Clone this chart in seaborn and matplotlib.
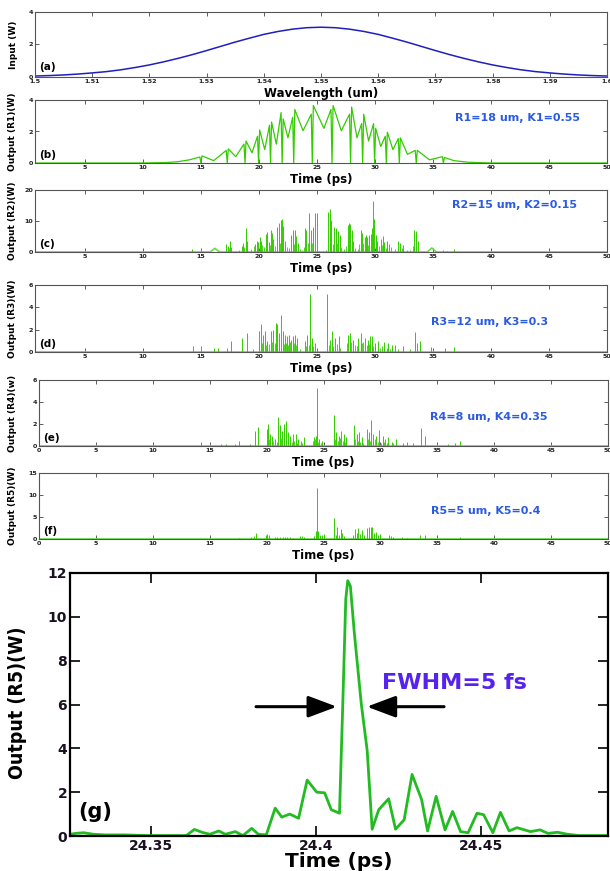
import numpy as np
import pandas as pd
import matplotlib
matplotlib.use("Agg")
import matplotlib.pyplot as plt
import seaborn as sns

sns.set_style("ticks")
plt.rcParams['font.family'] = ['DejaVu Sans']
plt.rcParams['text.color'] = 'black'
plt.rcParams['axes.labelcolor'] = 'black'

# ---------------- data ----------------
# (a) input spectrum
wl = [1.5000, 1.5025, 1.5050, 1.5075, 1.5100, 1.5125, 1.5150, 1.5175, 1.5200, 1.5225,
      1.5250, 1.5275, 1.5300, 1.5325, 1.5350, 1.5375, 1.5400, 1.5425, 1.5450, 1.5475,
      1.5500, 1.5525, 1.5550, 1.5575, 1.5600, 1.5625, 1.5650, 1.5675, 1.5700, 1.5725,
      1.5750, 1.5775, 1.5800, 1.5825, 1.5850, 1.5875, 1.5900, 1.5925, 1.5950, 1.5975, 1.6000]
inp = [0.06, 0.087, 0.126, 0.18, 0.25, 0.33, 0.44, 0.58, 0.74, 0.93,
       1.14, 1.37, 1.62, 1.88, 2.14, 2.38, 2.61, 2.79, 2.93, 3.02,
       3.05, 3.02, 2.93, 2.79, 2.61, 2.38, 2.14, 1.88, 1.62, 1.37,
       1.14, 0.93, 0.74, 0.58, 0.44, 0.33, 0.25, 0.18, 0.126, 0.087, 0.06]

# (b) R1 output: resonances (dip to zero between two peaks) and troughs
b_pre_t = [0.7, 10.0, 12.0, 13.0, 14.0]
b_pre_v = [0.0, 0.0, 0.03, 0.08, 0.2]
b_res_t = [15.0, 17.27, 18.8, 19.97, 21.0, 22.0, 23.0, 24.6, 26.3, 27.9, 28.94, 29.97, 30.98, 32.1, 33.56, 35.9]
b_res_left = [0.38, 0.8, 1.2, 1.7, 2.4, 3.2, 2.9, 3.1, 3.4, 3.1, 2.5, 2.5, 1.7, 1.55, 0.8, 0.4]
b_res_right = [0.45, 0.9, 1.4, 2.1, 2.6, 2.8, 3.4, 3.65, 3.65, 3.55, 3.1, 2.2, 1.95, 1.6, 0.8, 0.35]
b_half_gap = 0.09
b_trough_t = [16.1, 18.0, 19.4, 20.5, 21.5, 22.5, 23.8, 25.6, 27.1, 28.45, 29.45, 30.5, 31.55, 32.8, 34.7]
b_trough_v = [0.15, 0.4, 0.65, 0.85, 1.2, 1.6, 2.05, 2.2, 2.05, 1.6, 1.4, 1.05, 0.85, 0.55, 0.2]
b_post_t = [36.8, 38.0, 40.0, 50.0]
b_post_v = [0.15, 0.05, 0.0, 0.0]

# (c) R2 spikes
c_t = [14.2, 15.0, 17.2, 17.35, 17.5, 17.6, 18.5, 18.65, 18.9, 19.0, 19.7, 19.85, 19.95, 20.05, 20.2,
       20.6, 20.7, 20.85, 21.0, 21.1, 21.25, 21.55, 21.7, 21.9, 22.0, 22.1, 22.25, 22.8, 22.95, 23.1,
       23.2, 23.35, 24.0, 24.1, 24.3, 24.45, 24.7, 24.85, 25.0, 25.95, 26.1, 26.25, 26.45, 26.6, 26.8,
       26.95, 27.65, 27.75, 27.85, 28.05, 28.15, 28.8, 28.9, 29.1, 29.2, 29.35, 29.5, 29.65, 29.75, 29.85,
       29.95, 30.05, 30.2, 30.5, 30.7, 30.8, 31.05, 31.2, 32.0, 32.2, 32.45, 33.4, 33.55, 33.7, 35.9,
       36.2, 36.8]
c_h = [1.0, 1.0, 2.6, 2.0, 3.7, 1.7, 2.0, 2.8, 7.6, 3.7, 2.6, 3.7, 3.2, 4.8, 3.7,
       5.9, 6.4, 3.2, 7.2, 6.2, 4.3, 8.1, 9.2, 10.3, 10.5, 8.4, 3.7, 5.4, 7.0, 7.2,
       5.1, 2.8, 7.6, 7.0, 12.7, 7.2, 8.1, 12.7, 12.5, 13.0, 13.8, 10.3, 8.1, 7.6, 6.7,
       5.4, 8.7, 9.5, 9.1, 7.0, 3.7, 7.0, 6.2, 4.8, 5.4, 4.8, 5.4, 5.9, 7.6, 16.3,
       10.8, 5.4, 3.7, 4.3, 5.1, 3.2, 3.7, 2.6, 3.7, 2.8, 2.4, 7.2, 6.8, 3.7, 0.7,
       0.4, 1.1]
c_small_t = [17.45, 18.3, 18.75, 19.3, 19.55, 20.3, 20.45, 20.95, 21.4, 21.8, 22.4, 22.6, 23.0, 23.5,
             23.7, 23.9, 24.2, 24.6, 25.2, 25.5, 25.8, 26.35, 26.7, 27.1, 27.3, 27.5, 28.3, 28.5,
             28.65, 29.0, 29.4, 30.35, 30.6, 30.95, 31.4, 31.7, 32.35, 32.8, 33.0, 33.3]
c_small_h = [1.2, 0.8, 1.5, 1.0, 1.8, 2.2, 1.5, 2.4, 2.0, 3.0, 1.6, 1.2, 2.5, 1.0,
             0.8, 1.6, 2.8, 3.0, 0.4, 0.3, 0.5, 2.5, 3.0, 1.5, 0.9, 1.8, 1.4, 1.0,
             2.6, 3.0, 2.2, 1.8, 2.4, 1.2, 1.6, 1.0, 1.3, 0.8, 0.6, 1.9]
c_base_t = [0.7, 15.8, 16.2, 16.6, 34.5, 34.9, 35.3, 50.0]
c_base_v = [0.0, 0.0, 1.2, 0.0, 0.0, 1.3, 0.0, 0.0]

# (d) R3 spikes
d_t = [14.29, 15.0, 16.14, 16.43, 17.23, 17.57, 18.57, 19.0, 20.0, 20.14, 20.34, 20.51, 20.71, 21.06,
       21.23, 21.43, 21.6, 21.77, 21.91, 22.06, 22.23, 22.4, 22.57, 22.8, 22.97, 23.14, 23.31, 24.0,
       24.17, 24.4, 24.57, 24.86, 25.86, 26.09, 26.29, 26.57, 26.86, 27.71, 27.86, 28.14, 28.57, 28.77,
       29.14, 29.37, 29.57, 29.71, 30.0, 30.29, 30.8, 31.14, 31.43, 31.77, 32.43, 33.43, 33.66, 33.86,
       34.86, 36.0, 36.8]
d_h = [0.5, 0.5, 0.4, 0.4, 0.4, 0.95, 1.25, 1.7, 1.9, 2.5, 1.55, 1.85, 0.95, 1.85,
       2.0, 2.6, 2.5, 1.7, 3.3, 1.85, 1.55, 1.4, 1.55, 1.1, 1.4, 1.55, 1.25, 0.95,
       1.55, 5.2, 1.25, 0.8, 5.2, 1.1, 1.85, 1.25, 1.4, 1.55, 1.7, 1.1, 1.25, 1.7,
       1.25, 1.1, 1.4, 1.4, 0.8, 0.95, 0.9, 0.8, 0.65, 0.6, 0.5, 1.8, 0.8, 0.95,
       0.45, 0.35, 0.45]
d_small_t = [19.5, 20.25, 20.6, 20.9, 21.15, 21.35, 21.5, 21.7, 22.15, 22.3, 22.5, 22.7, 22.9, 23.05,
             23.2, 23.5, 24.1, 24.3, 24.7, 25.0, 26.0, 26.4, 26.7, 27.0, 27.6, 27.95, 28.3, 28.45,
             28.9, 29.0, 29.3, 29.5, 29.85, 30.45, 30.6, 31.0, 31.3, 32.0, 33.0]
d_small_h = [0.3, 0.8, 0.6, 0.7, 0.9, 0.8, 0.6, 0.9, 0.7, 0.8, 0.6, 0.9, 0.6, 0.8,
             0.6, 0.3, 0.5, 0.6, 0.5, 0.3, 0.6, 0.5, 0.7, 0.4, 0.8, 0.9, 0.6, 0.5,
             0.8, 0.9, 0.6, 0.7, 0.5, 0.4, 0.5, 0.4, 0.3, 0.3, 0.3]

# (e) R4 spikes
e_t = [14.27, 16.03, 16.47, 17.2, 17.58, 18.52, 19.02, 19.28, 20.04, 20.16, 20.34, 20.51, 20.72, 21.04,
       21.22, 21.39, 21.57, 21.74, 21.92, 22.1, 22.33, 22.57, 22.8, 23.06, 23.27, 24.15, 24.33, 24.44,
       24.62, 24.91, 25.94, 26.14, 26.35, 26.58, 26.79, 27.02, 27.7, 27.9, 28.14, 28.34, 28.78, 28.99,
       29.16, 29.37, 29.6, 29.9, 30.19, 30.4, 30.69, 30.98, 31.36, 31.95, 32.3, 32.83, 33.53, 33.94,
       35.97, 36.55, 37.0]
e_h = [0.4, 0.15, 0.15, 0.15, 0.45, 0.15, 1.4, 1.7, 1.55, 2.0, 1.1, 0.95, 0.6, 2.6,
       1.9, 1.4, 2.0, 2.3, 1.25, 0.95, 1.1, 1.1, 0.6, 0.45, 0.8, 0.8, 0.95, 5.3,
       0.6, 0.45, 2.85, 1.25, 0.95, 1.4, 1.1, 0.8, 1.9, 1.1, 1.3, 0.8, 1.55, 1.25,
       2.4, 1.1, 0.95, 1.5, 0.95, 0.6, 0.8, 0.4, 0.6, 0.3, 0.4, 0.25, 1.6, 0.9,
       0.15, 0.25, 0.5]
e_small_t = [20.25, 20.6, 20.9, 21.3, 21.5, 21.85, 22.2, 22.45, 22.7, 23.15, 24.05, 24.25, 24.55, 24.75,
             26.05, 26.25, 26.45, 26.7, 26.9, 27.8, 28.05, 28.25, 28.5, 28.9, 29.05, 29.5, 29.75, 30.05,
             30.3, 30.55, 31.1]
e_small_h = [0.6, 0.5, 0.4, 0.7, 0.6, 0.5, 0.4, 0.5, 0.3, 0.3, 0.5, 0.6, 0.4, 0.3,
             0.6, 0.5, 0.7, 0.5, 0.4, 0.6, 0.5, 0.4, 0.3, 0.6, 0.5, 0.6, 0.4, 0.3,
             0.4, 0.3, 0.3]

# (f) R5 spikes
f_t = [17.55, 18.67, 18.9, 19.05, 19.93, 20.07, 20.22, 20.7, 20.9, 21.16, 21.4, 21.6, 21.8, 22.1,
       22.33, 22.9, 23.13, 23.3, 24.15, 24.33, 24.44, 24.56, 24.68, 24.91, 25.08, 25.94, 26.08, 26.23,
       26.38, 26.5, 26.64, 26.8, 27.6, 27.75, 27.9, 28.05, 28.2, 28.34, 28.55, 28.84, 29.0, 29.16,
       29.28, 29.4, 29.6, 29.8, 30.0, 30.78, 30.92, 31.13, 31.86, 32.3, 33.5, 33.9, 37.0]
f_h = [0.25, 0.4, 0.75, 1.3, 1.0, 1.15, 0.85, 0.4, 0.4, 0.45, 0.45, 0.4, 0.5, 0.4,
       0.25, 0.6, 0.7, 0.5, 0.75, 1.75, 11.6, 1.9, 1.0, 1.0, 1.15, 4.8, 1.0, 2.65,
       1.0, 2.3, 1.4, 0.75, 1.0, 2.35, 1.4, 2.5, 1.15, 2.1, 0.85, 2.5, 2.65, 2.65,
       2.8, 1.4, 1.6, 1.0, 1.15, 1.0, 0.75, 0.5, 0.4, 0.25, 0.85, 1.0, 0.4]

# (g) zoom of R5 main pulse
g_t = [24.3255, 24.3273, 24.3296, 24.3326, 24.3361, 24.3420, 24.3491, 24.3608, 24.3632, 24.3655,
       24.3679, 24.3706, 24.3726, 24.3756, 24.3779, 24.3806, 24.3826, 24.3850, 24.3877, 24.3897,
       24.3921, 24.3948, 24.3974, 24.4003, 24.4027, 24.4047, 24.4072, 24.4082, 24.4091, 24.4097,
       24.4105, 24.4117, 24.4138, 24.4156, 24.4171, 24.4191, 24.4221, 24.4242, 24.4268, 24.4292,
       24.4321, 24.4339, 24.4365, 24.4392, 24.4415, 24.4439, 24.4462, 24.4489, 24.4509, 24.4537,
       24.4560, 24.4586, 24.4610, 24.4651, 24.4680, 24.4704, 24.4733, 24.4763, 24.4798, 24.4886]
g_v = [0.08, 0.12, 0.15, 0.08, 0.05, 0.05, 0.02, 0.02, 0.30, 0.17,
       0.08, 0.23, 0.08, 0.20, 0.02, 0.35, 0.08, 0.05, 1.27, 0.86,
       1.00, 0.81, 2.55, 2.00, 1.97, 1.20, 1.04, 6.04, 10.8, 11.65,
       11.4, 9.26, 6.04, 3.89, 0.31, 1.20, 1.70, 0.31, 0.74, 2.81,
       1.66, 0.23, 1.81, 0.28, 1.12, 0.20, 0.15, 1.04, 0.97, 0.15,
       1.08, 0.23, 0.38, 0.20, 0.28, 0.12, 0.17, 0.08, 0.02, 0.02]

fwhm_left = [24.3819, 24.4064]
fwhm_right = [24.4389, 24.4155]
fwhm_y = 5.9

texts = ["R1=18 um, K1=0.55", "R2=15 um, K2=0.15", "R3=12 um, K3=0.3",
         "R4=8 um, K4=0.35", "R5=5 um, K5=0.4"]
ylabels = ["Output (R1)(W)", "Output (R2)(W)", "Output (R3)(W)", "Output (R4)(w)", "Output (R5)(W)"]

# ---------------- figure ----------------
W, H = 610, 871
fig = plt.figure(figsize=(W / 100, H / 100), dpi=100)

def rect(l, t, r, b):
    return [l / W, 1 - b / H, (r - l) / W, (b - t) / H]

GREEN = "#33cc00"
LIGHT = "#66dd44"
BLUE_T = "#2b5be0"

def style_small(ax):
    for s in ax.spines.values():
        s.set_color("#555555")
        s.set_linewidth(0.8)
    ax.tick_params(direction="in", length=3, width=0.6, colors="#444444",
                   top=True, right=True, labelsize=4.6, pad=1.5)
    for lab in ax.get_xticklabels() + ax.get_yticklabels():
        lab.set_fontweight("bold")
        lab.set_color("#222222")

def labels_small(ax, xl, yl, tag, left, width, height, tag_y):
    ax.set_xlabel(xl, fontsize=8.5, fontweight="bold", labelpad=0)
    ax.xaxis.label.set_va("center")
    ax.xaxis.set_label_coords(0.5, -16.5 / height)
    ax.set_ylabel(yl, fontsize=6.5, fontweight="bold")
    ax.yaxis.label.set_va("center")
    ax.yaxis.set_label_coords((13 - left) / width, 0.5)
    ax.text(0.008, tag_y, tag, transform=ax.transAxes, fontsize=7.5,
            fontweight="bold", ha="left", va="center")

# (a)
ax = fig.add_axes(rect(35, 11.7, 607, 77))
sns.lineplot(x=wl, y=inp, ax=ax, color="#1f1fbf", lw=1.1)
ax.set_xlim(1.5, 1.6)
ax.set_ylim(0, 4)
ax.set_xticks([1.5, 1.51, 1.52, 1.53, 1.54, 1.55, 1.56, 1.57, 1.58, 1.59, 1.6])
ax.set_xticklabels(["1.5", "1.51", "1.52", "1.53", "1.54", "1.55", "1.56", "1.57", "1.58", "1.59", "1.6"])
ax.set_yticks([0, 2, 4])
style_small(ax)
labels_small(ax, "Wavelength (um)", "Input (W)", "(a)", 35, 572, 65.3, 0.15)

# (b)
bt, bv = list(b_pre_t), list(b_pre_v)
for i, c in enumerate(b_res_t):
    bt += [c - b_half_gap, c, c + b_half_gap]
    bv += [b_res_left[i], 0.0, b_res_right[i]]
    if i < len(b_trough_t):
        bt.append(b_trough_t[i])
        bv.append(b_trough_v[i])
bt += b_post_t
bv += b_post_v
dfb = pd.DataFrame({"t": bt, "v": bv})
ax = fig.add_axes(rect(35, 100, 607, 163))
sns.lineplot(data=dfb, x="t", y="v", ax=ax, color=GREEN, lw=0.9, sort=False, estimator=None)
ax.set_xlim(0.7, 50)
ax.set_ylim(0, 4)
ax.set_xticks(range(5, 51, 5))
ax.set_yticks([0, 2, 4])
style_small(ax)
labels_small(ax, "Time (ps)", ylabels[0], "(b)", 35, 572, 63, 0.13)
ax.text(0.843, 0.714, texts[0], transform=ax.transAxes, color=BLUE_T, fontsize=8,
        fontweight="bold", ha="center", va="center")

def spike_panel(r, left, width, height, xlim, ylim, yticks, spikes, small, base, txt, txtpos, yl, tag, tag_y):
    ax = fig.add_axes(r)
    if base is not None:
        sns.lineplot(x=base[0], y=base[1], ax=ax, color=LIGHT, lw=1.2, sort=False, estimator=None)
    else:
        sns.lineplot(x=[xlim[0], xlim[1]], y=[0, 0], ax=ax, color=LIGHT, lw=1.2)
    if small is not None:
        ax.vlines(small[0], 0, small[1], color=GREEN, lw=0.6)
    ax.vlines(spikes[0], 0, spikes[1], color=GREEN, lw=0.7)
    ax.set_xlim(*xlim)
    ax.set_ylim(*ylim)
    ax.set_xticks(range(0 if xlim[0] == 0 else 5, 51, 5))
    ax.set_yticks(yticks)
    style_small(ax)
    labels_small(ax, "Time (ps)", yl, tag, left, width, height, tag_y)
    ax.text(txtpos[0], txtpos[1], txt, transform=ax.transAxes, color=BLUE_T, fontsize=8,
            fontweight="bold", ha="center", va="center")
    return ax

spike_panel(rect(35, 190, 607, 252), 35, 572, 62, (0.7, 50), (0, 20), [0, 10, 20],
            (c_t, c_h), (c_small_t, c_small_h), (c_base_t, c_base_v), texts[1], (0.838, 0.758),
            ylabels[1], "(c)", 0.13)
spike_panel(rect(35, 285, 607, 352), 35, 572, 67, (0.7, 50), (0, 6), [0, 2, 4, 6],
            (d_t, d_h), (d_small_t, d_small_h), None, texts[2], (0.795, 0.448),
            ylabels[2], "(d)", 0.12)
spike_panel(rect(39, 380, 608, 446), 39, 569, 66, (0, 50), (0, 6), [0, 2, 4, 6],
            (e_t, e_h), (e_small_t, e_small_h), None, texts[3], (0.79, 0.44),
            ylabels[3], "(e)", 0.12)
spike_panel(rect(39, 473, 608, 539), 39, 569, 66, (0, 50), (0, 15), [0, 5, 10, 15],
            (f_t, f_h), None, None, texts[4], (0.785, 0.424),
            ylabels[4], "(f)", 0.12)

# (g)
ax = fig.add_axes(rect(70, 573, 608, 836))
sns.lineplot(x=g_t, y=g_v, ax=ax, color="#22bb22", lw=2.0, sort=False, estimator=None)
ax.set_xlim(24.3255, 24.4886)
ax.set_ylim(0, 12)
ax.set_xticks([24.35, 24.4, 24.45])
ax.set_xticklabels(["24.35", "24.4", "24.45"])
ax.set_yticks([0, 2, 4, 6, 8, 10, 12])
for s in ax.spines.values():
    s.set_color("black")
    s.set_linewidth(1.6)
ax.tick_params(direction="in", length=7, width=1.2, colors="black",
               top=True, right=True, labelsize=10, pad=2)
for lab in ax.get_xticklabels() + ax.get_yticklabels():
    lab.set_fontweight("bold")
    lab.set_color("#1a1020")
ax.set_xlabel("Time (ps)", fontsize=14.5, fontweight="bold", color="black")
ax.xaxis.label.set_va("center")
ax.xaxis.set_label_coords(0.5, -25 / 263)
ax.set_ylabel("Output (R5)(W)", fontsize=14, fontweight="bold", fontstretch="condensed",
              color="black")
ax.yaxis.label.set_va("center")
ax.yaxis.set_label_coords((18 - 70) / 538, 0.505)
ax.text(24.328, 1.1, "(g)", fontsize=15, fontweight="bold", ha="left", va="center", color="black")
ax.text(24.4200, 7.0, "FWHM=5 fs", color="#5522ee", fontsize=16, fontweight="bold",
        ha="left", va="center")
aprops = dict(arrowstyle="-|>,head_length=0.8,head_width=0.3", lw=2.2, color="black",
              mutation_scale=22, shrinkA=0, shrinkB=0)
ax.annotate("", xy=(fwhm_left[1], fwhm_y), xytext=(fwhm_left[0], fwhm_y), arrowprops=aprops)
ax.annotate("", xy=(fwhm_right[1], fwhm_y), xytext=(fwhm_right[0], fwhm_y), arrowprops=aprops)

fig.savefig("out.png", dpi=100)
